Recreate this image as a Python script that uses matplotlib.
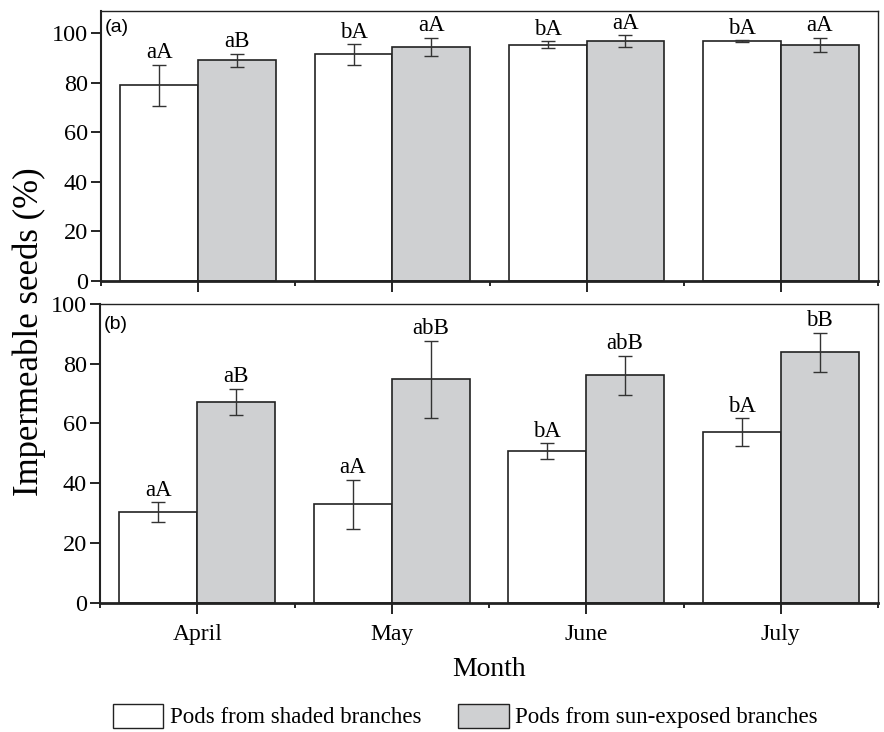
import matplotlib
matplotlib.use('Agg')
import matplotlib.pyplot as plt
from matplotlib.patches import Patch
import numpy as np

plt.rcParams['font.family'] = ['Liberation Serif', 'DejaVu Serif']

months = ['April', 'May', 'June', 'July']

# panel (a)
a_shaded = [79.0, 91.5, 95.4, 96.8]
a_shaded_err = [8.4, 4.2, 1.5, 0.4]
a_sun = [89.1, 94.5, 96.8, 95.4]
a_sun_err = [2.6, 3.7, 2.4, 2.9]
a_shaded_lbl = ['aA', 'bA', 'bA', 'bA']
a_sun_lbl = ['aB', 'aA', 'aA', 'aA']

# panel (b)
b_shaded = [30.3, 32.9, 50.8, 57.0]
b_shaded_err = [3.3, 8.3, 2.6, 4.7]
b_sun = [67.2, 74.8, 76.1, 83.8]
b_sun_err = [4.5, 12.9, 6.6, 6.6]
b_shaded_lbl = ['aA', 'aA', 'bA', 'bA']
b_sun_lbl = ['aB', 'abB', 'abB', 'bB']

GRAY = '#cfd0d2'
EDGE = '#222222'

fig = plt.figure(figsize=(8.84, 7.32), dpi=100)
ax1 = fig.add_axes([101/884, 1-281/732, 777/884, 270/732])
ax2 = fig.add_axes([100/884, 1-602.7/732, 778/884, 298.7/732])

x = np.arange(len(months))
w = 0.4


def draw(ax, shaded, shaded_err, sun, sun_err, lbl_sh, lbl_sun, ymax, tag, tag_y):
    ax.bar(x - w/2, shaded, w, color='white', edgecolor=EDGE, linewidth=1.2, zorder=2)
    ax.bar(x + w/2, sun, w, color=GRAY, edgecolor=EDGE, linewidth=1.2, zorder=2)
    ax.errorbar(x - w/2, shaded, yerr=shaded_err, fmt='none', ecolor='#333333',
                elinewidth=1, capsize=5, capthick=1, zorder=3)
    ax.errorbar(x + w/2, sun, yerr=sun_err, fmt='none', ecolor='#333333',
                elinewidth=1, capsize=5, capthick=1, zorder=3)
    for i in range(len(x)):
        ax.annotate(lbl_sh[i], (x[i] - w/2, shaded[i] + shaded_err[i]), xytext=(0, 1),
                    textcoords='offset points', ha='center', va='bottom', fontsize=16.5)
        ax.annotate(lbl_sun[i], (x[i] + w/2, sun[i] + sun_err[i]), xytext=(0, 1),
                    textcoords='offset points', ha='center', va='bottom', fontsize=16.5)
    ax.set_xlim(-0.5, 3.5)
    ax.set_ylim(0, ymax)
    ax.set_yticks([0, 20, 40, 60, 80, 100])
    ax.set_xticks(x)
    ax.set_xticks(np.arange(-0.5, 3.6, 1.0), minor=True)
    ax.tick_params(axis='x', which='major', direction='out', length=8, width=1.2)
    ax.tick_params(axis='x', which='minor', direction='out', length=3.5, width=1.2)
    ax.tick_params(axis='y', direction='out', length=7.5, width=1.2, labelsize=17.5, pad=2)
    ax.spines['bottom'].set_linewidth(2)
    ax.spines['left'].set_linewidth(1.5)
    ax.spines['top'].set_linewidth(1)
    ax.spines['right'].set_linewidth(1)
    for s in ax.spines.values():
        s.set_color(EDGE)
    ax.text(0.005, tag_y, tag, transform=ax.transAxes, ha='left', va='top',
            fontsize=14, family=['Liberation Sans', 'DejaVu Sans'])


draw(ax1, a_shaded, a_shaded_err, a_sun, a_sun_err, a_shaded_lbl, a_sun_lbl, 109, '(a)', 0.97)
draw(ax2, b_shaded, b_shaded_err, b_sun, b_sun_err, b_shaded_lbl, b_sun_lbl, 100, '(b)', 0.96)

ax1.set_xticklabels([])
ax2.set_xticklabels(months, fontsize=17)
ax2.tick_params(axis='x', which='major', pad=7)
ax2.set_xlabel('Month', fontsize=20, labelpad=9)

fig.text(29/884, 1-332/732, 'Impermeable seeds (%)', rotation=90, ha='center', va='center',
         fontsize=25)

handles = [Patch(facecolor='white', edgecolor=EDGE, linewidth=1),
           Patch(facecolor=GRAY, edgecolor=EDGE, linewidth=1)]
fig.legend(handles, ['Pods from shaded branches', 'Pods from sun-exposed branches'],
           loc='center left', bbox_to_anchor=(112.7/884, 1-716/732), ncol=2,
           frameon=False, fontsize=16.5, handlelength=2.2, handleheight=1.25,
           handletextpad=0.3, columnspacing=1.6, borderpad=0, borderaxespad=0)

fig.savefig('out.png', dpi=100)
